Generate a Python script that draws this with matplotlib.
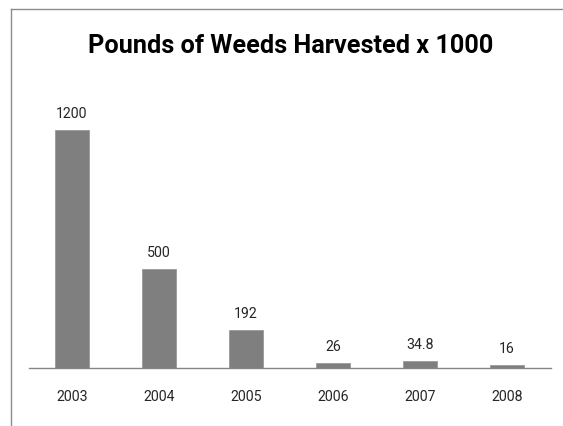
import matplotlib
matplotlib.use("Agg")
import matplotlib.pyplot as plt
from matplotlib.lines import Line2D

years = ["2003", "2004", "2005", "2006", "2007", "2008"]
values = [1200, 500, 192, 26, 34.8, 16]
value_labels = ["1200", "500", "192", "26", "34.8", "16"]
title = "Pounds of Weeds Harvested x 1000"

FONT = ["Roboto", "DejaVu Sans"]

W, H = 563, 427
fig = plt.figure(figsize=(W / 100, H / 100), dpi=100)
fig.patch.set_facecolor("white")

left, right = 28.5, 550.5
base, top = 369, 91
ax = fig.add_axes([left / W, (H - base) / H, (right - left) / W, (base - top) / H])
ax.set_facecolor("white")

x = list(range(len(years)))
ax.bar(x, values, width=0.4, color="#7f7f7f", edgecolor="#9a9a9a", linewidth=0.6)
ax.set_xlim(-0.5, len(years) - 0.5)
ax.set_ylim(0, 1400)

for xi, v, lab in zip(x, values, value_labels):
    ax.annotate(lab, (xi, v), xytext=(0, 9.2), textcoords="offset points",
                ha="center", va="baseline", fontsize=10.2, color="#262626",
                family=FONT)

ax.set_xticks(x)
ax.set_xticklabels(years, fontsize=10.2, color="#262626", family=FONT)
ax.tick_params(axis="x", length=0, pad=15)
ax.set_yticks([])
for s in ["top", "right", "left"]:
    ax.spines[s].set_visible(False)
ax.spines["bottom"].set_color("#868686")
ax.spines["bottom"].set_linewidth(1.0)

fig.text(290.5 / W, 1 - 46 / H, title, ha="center", va="center",
         fontsize=18.2, fontweight="bold", color="black", family=FONT)

# outer frame (partially visible)
fig.add_artist(Line2D([11 / W, 11 / W], [0, 1 - 10 / H], transform=fig.transFigure,
                      color="#8c8c8c", linewidth=1.0))
fig.add_artist(Line2D([11 / W, 1], [1 - 10 / H, 1 - 10 / H], transform=fig.transFigure,
                      color="#8c8c8c", linewidth=1.0))

fig.savefig("out.png", dpi=100, facecolor="white")
